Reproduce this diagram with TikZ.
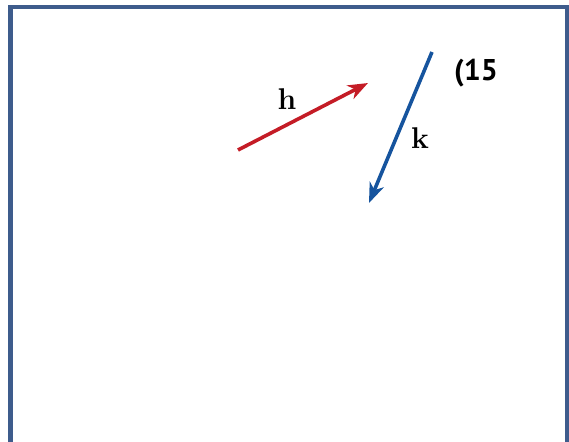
\documentclass[tikz,border=0pt]{standalone}
\usepackage{fontspec}
\newfontfamily\labelsans{PT Sans}
\usepackage{tikz}
\usetikzlibrary{positioning,arrows.meta,calc}

\definecolor{framecol}{RGB}{62,92,140}
\definecolor{hred}{RGB}{196,28,38}
\definecolor{kblue}{RGB}{22,84,158}

\tikzset{
  vecarrow/.style={line width=3.6pt,-{Stealth[length=20pt,width=15pt,inset=6pt]}},
  veclabel/.style={font=\fontsize{30}{30}\selectfont\bfseries,inner sep=0pt}
}

\begin{document}
\begin{tikzpicture}[x=1pt,y=-1pt]
  \useasboundingbox (0,0) rectangle (569,441);
  % frame, open at the bottom
  \draw[framecol,line width=4.5pt] (10.5,445) -- (10.5,7) -- (567,7) -- (567,445);
  \coordinate (htail) at (238,150);
  \coordinate (hhead) at (368,83);
  \coordinate (ktail) at (432,52);
  \coordinate (khead) at (369,203);
  \draw[vecarrow,hred] (htail) -- (hhead);
  \draw[vecarrow,kblue] (ktail) -- (khead);
  \node[veclabel] (hlab) at (287,99){h};
  \node[veclabel] (klab) at (420,138){k};
  \node[inner sep=0pt,font=\labelsans\fontsize{30}{30}\selectfont\bfseries] (eqno) at (476,73){(15};
\end{tikzpicture}
\end{document}
